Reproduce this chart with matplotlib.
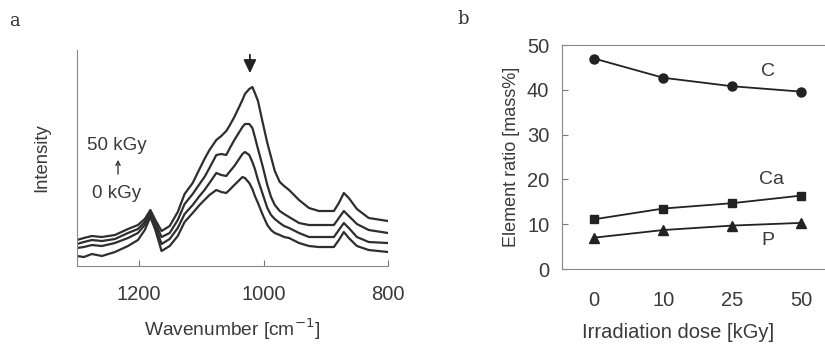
import matplotlib
matplotlib.use("Agg")
import matplotlib.pyplot as plt

plt.rcParams['font.family'] = ['Liberation Sans', 'DejaVu Sans']

# ---- panel a: spectra (arbitrary intensity units) ----
wavenumber = [1300, 1289, 1276, 1260, 1239, 1218, 1202, 1191, 1182, 1174, 1164, 1151, 1138,
              1127, 1114, 1103, 1095, 1087, 1076, 1068, 1060, 1055, 1047, 1034, 1030, 1023,
              1018, 1014, 1009, 1002, 994, 988, 982, 974, 967, 959, 943, 927, 911, 887, 879,
              871, 863, 850, 831, 800]
int_50kgy = [26, 28, 30, 29, 31, 37, 41, 47, 56, 46, 35, 40, 54,
             72, 83, 97, 107, 116, 126, 130, 135, 140, 149, 166, 172, 177,
             179, 173, 165, 145, 123, 109, 95, 84, 80, 76, 66, 58, 55, 55, 63,
             73, 68, 57, 48, 45]
int_25kgy = [22, 24, 26, 25, 27, 33, 37, 44, 54, 43, 29, 33, 46,
             62, 72, 82, 89, 98, 111, 112, 111, 117, 126, 139, 142, 142,
             138, 129, 117, 101, 81, 69, 61, 55, 52, 49, 43, 41, 41, 41, 48,
             55, 50, 42, 36, 33]
int_10kgy = [18, 19, 21, 20, 23, 28, 33, 41, 52, 40, 22, 27, 38,
             52, 61, 70, 76, 83, 93, 91, 90, 94, 100, 112, 114, 111,
             104, 97, 86, 73, 58, 51, 47, 43, 40, 38, 33, 29, 29, 29, 36,
             43, 38, 29, 24, 23]
int_0kgy = [10, 9, 12, 10, 14, 20, 26, 36, 49, 36, 15, 20, 30,
            44, 53, 61, 66, 71, 76, 74, 73, 76, 81, 89, 88, 83,
            77, 70, 63, 52, 41, 36, 33, 31, 29, 28, 23, 20, 19, 19, 26,
            34, 28, 20, 16, 14]
wn_ticks = [1200, 1000, 800]

# ---- panel b: element ratio ----
doses = ['0', '10', '25', '50']
carbon = [47.0, 42.7, 40.8, 39.6]
calcium = [11.1, 13.5, 14.7, 16.4]
phosphorus = [7.0, 8.7, 9.7, 10.3]

line_col = '#2e2e2e'
text_col = '#3a3a3a'

fig = plt.figure(figsize=(8.25, 3.44), dpi=100)

ax1 = fig.add_axes([0.0933, 0.2267, 0.377, 0.628])
for series in [int_0kgy, int_10kgy, int_25kgy, int_50kgy]:
    ax1.plot(wavenumber, series, color=line_col, lw=1.6, solid_joinstyle='round')
ax1.set_xlim(1300, 800)
ax1.set_ylim(0, 216)
ax1.set_xticks(wn_ticks)
ax1.set_yticks([])
ax1.tick_params(axis='x', direction='in', length=4, width=0.8, pad=14,
                labelsize=14.5, labelcolor=text_col, color='#777777')
for s in ['top', 'right']:
    ax1.spines[s].set_visible(False)
for s in ['left', 'bottom']:
    ax1.spines[s].set_color('#888888')
    ax1.spines[s].set_linewidth(0.8)
ax1.set_xlabel('Wavenumber [cm$^{-1}$]', fontsize=13.8, color=text_col, labelpad=9)
ax1.set_ylabel('Intensity', fontsize=13.3, color=text_col, labelpad=19)

# dose legend: 0 kGy -> 50 kGy
ax1.text(117 / 825, 1 - 145 / 344, '50 kGy', transform=fig.transFigure, ha='center',
         va='center', fontsize=13.5, color=text_col)
ax1.text(117 / 825, 1 - 193 / 344, '0 kGy', transform=fig.transFigure, ha='center',
         va='center', fontsize=13.5, color=text_col)
ax1.annotate('', xy=(118 / 825, 1 - 157 / 344), xytext=(118 / 825, 1 - 177 / 344),
             xycoords='figure fraction', textcoords='figure fraction',
             arrowprops=dict(arrowstyle='->,head_width=0.15,head_length=0.3',
                             color=text_col, lw=1.0))
ax1.annotate('', xy=(1022, 190), xytext=(1022, 214), annotation_clip=False,
             arrowprops=dict(arrowstyle='-|>,head_width=0.38,head_length=0.8',
                             color='#222222', lw=1.3))

ax2 = fig.add_axes([0.681, 0.218, 0.319, 0.651])
xpos = range(len(doses))
ax2.plot(xpos, carbon, color='#222222', lw=1.3, marker='o', ms=6.5)
ax2.plot(xpos, calcium, color='#222222', lw=1.3, marker='s', ms=6)
ax2.plot(xpos, phosphorus, color='#222222', lw=1.3, marker='^', ms=6.5)
ax2.set_xlim(-0.467, 3.34)
ax2.set_ylim(0, 50)
ax2.set_xticks(list(xpos))
ax2.set_xticklabels(doses)
ax2.set_yticks([0, 10, 20, 30, 40, 50])
ax2.tick_params(axis='x', length=0, pad=16, labelsize=14.5, labelcolor=text_col)
ax2.tick_params(axis='y', direction='in', length=4, width=0.8, pad=9,
                labelsize=14.5, labelcolor=text_col, color='#777777')
ax2.spines['right'].set_visible(False)
for s in ['left', 'bottom', 'top']:
    ax2.spines[s].set_color('#888888')
    ax2.spines[s].set_linewidth(0.8)
ax2.set_xlabel('Irradiation dose [kGy]', fontsize=14.5, color=text_col, labelpad=10)
ax2.xaxis.set_label_coords(0.441, -0.24)
ax2.set_ylabel('Element ratio [mass%]', fontsize=13, color=text_col, labelpad=5)
ax2.text(2.51, 44, 'C', fontsize=14, color=text_col, ha='center', va='center')
ax2.text(2.57, 19.9, 'Ca', fontsize=14, color=text_col, ha='center', va='center')
ax2.text(2.52, 6.3, 'P', fontsize=14, color=text_col, ha='center', va='center')

fig.text(15 / 825, 1 - 21 / 344, 'a', family='DejaVu Serif', fontsize=13,
         ha='center', va='center', color='#333333')
fig.text(463 / 825, 1 - 19 / 344, 'b', family='DejaVu Serif', fontsize=13,
         ha='center', va='center', color='#333333')

fig.savefig('out.png', dpi=100)
